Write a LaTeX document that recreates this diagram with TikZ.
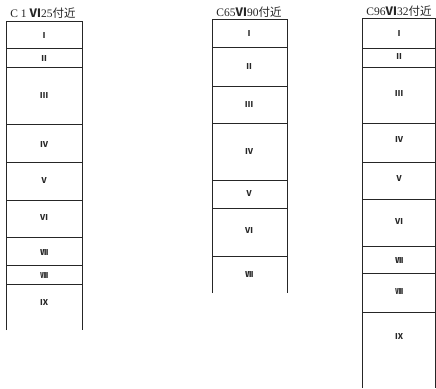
\documentclass[tikz,border=0pt]{standalone}
\usepackage{fontspec}
\setmainfont{Liberation Serif}
\newfontfamily\cjk{Noto Sans CJK JP}
\tikzset{
  wall/.style={draw=black!85, line width=1pt},
  sep/.style={draw=black!85, line width=1pt},
  num/.style={font=\cjk\fontsize{8}{9}\selectfont\bfseries, inner sep=0pt, text=black!85},
  head/.style={font=\fontsize{11.5}{12}\selectfont, inner sep=0pt, text=black!85}
}
\begin{document}
\begin{tikzpicture}[x=1pt,y=-1pt]
\useasboundingbox (0,0) rectangle (436,388);
% ---------- column 1 ----------
\node[head] (h1) at (43,13) {C 1 {\cjk\bfseries Ⅵ}25{\cjk 付近}};
\draw[wall] (6,330) -- (6,21) -- (82,21) -- (82,330);
\foreach \y in {48,67,124,162,200,237,265,284} \draw[sep] (6,\y) -- (82,\y);
\node[num] (a1) at (44,36) {Ⅰ};
\node[num] (a2) at (44,59) {Ⅱ};
\node[num] (a3) at (44,96) {Ⅲ};
\node[num] (a4) at (44,145) {Ⅳ};
\node[num] (a5) at (44,181) {Ⅴ};
\node[num] (a6) at (44,218) {Ⅵ};
\node[num] (a7) at (44,252) {Ⅶ};
\node[num] (a8) at (44,275) {Ⅷ};
\node[num] (a9) at (44,302) {Ⅸ};
% ---------- column 2 ----------
\node[head] (h2) at (249,12) {C65{\cjk\bfseries Ⅵ}90{\cjk 付近}};
\draw[wall] (212,293) -- (212,19) -- (287,19) -- (287,293);
\foreach \y in {47,86,123,180,208,256} \draw[sep] (212,\y) -- (287,\y);
\node[num] (b1) at (249,34) {Ⅰ};
\node[num] (b2) at (249,67) {Ⅱ};
\node[num] (b3) at (249,105) {Ⅲ};
\node[num] (b4) at (249,152) {Ⅳ};
\node[num] (b5) at (249,194) {Ⅴ};
\node[num] (b6) at (249,230) {Ⅵ};
\node[num] (b7) at (249,274) {Ⅶ};
% ---------- column 3 ----------
\node[head] (h3) at (399,11) {C96{\cjk\bfseries Ⅵ}32{\cjk 付近}};
\draw[wall] (362,388) -- (362,18) -- (435,18) -- (435,388);
\foreach \y in {48,67,123,162,199,246,273,312} \draw[sep] (362,\y) -- (435,\y);
\node[num] (c1) at (399,34) {Ⅰ};
\node[num] (c2) at (399,57) {Ⅱ};
\node[num] (c3) at (399,94) {Ⅲ};
\node[num] (c4) at (399,140) {Ⅳ};
\node[num] (c5) at (399,179) {Ⅴ};
\node[num] (c6) at (399,222) {Ⅵ};
\node[num] (c7) at (399,260) {Ⅶ};
\node[num] (c8) at (399,291) {Ⅷ};
\node[num] (c9) at (399,336) {Ⅸ};
\end{tikzpicture}
\end{document}
